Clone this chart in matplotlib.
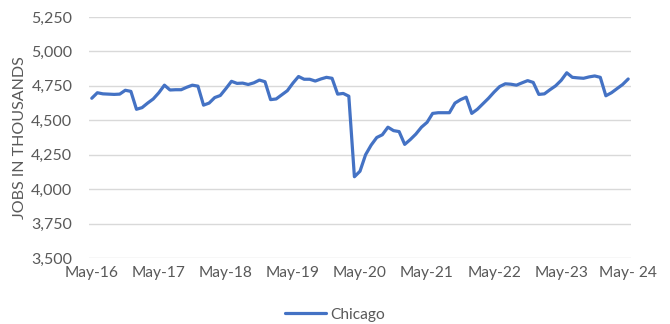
import matplotlib
matplotlib.use("Agg")
import matplotlib.pyplot as plt
from matplotlib.ticker import FuncFormatter, MultipleLocator

plt.rcParams['font.family'] = ['Lato', 'DejaVu Sans']

# Monthly Chicago employment, May 2016 - May 2024 (thousands of jobs)
months = [
    "May-16", "Jun-16", "Jul-16", "Aug-16", "Sep-16", "Oct-16", "Nov-16", "Dec-16",
    "Jan-17", "Feb-17", "Mar-17", "Apr-17", "May-17", "Jun-17", "Jul-17", "Aug-17",
    "Sep-17", "Oct-17", "Nov-17", "Dec-17", "Jan-18", "Feb-18", "Mar-18", "Apr-18",
    "May-18", "Jun-18", "Jul-18", "Aug-18", "Sep-18", "Oct-18", "Nov-18", "Dec-18",
    "Jan-19", "Feb-19", "Mar-19", "Apr-19", "May-19", "Jun-19", "Jul-19", "Aug-19",
    "Sep-19", "Oct-19", "Nov-19", "Dec-19", "Jan-20", "Feb-20", "Mar-20", "Apr-20",
    "May-20", "Jun-20", "Jul-20", "Aug-20", "Sep-20", "Oct-20", "Nov-20", "Dec-20",
    "Jan-21", "Feb-21", "Mar-21", "Apr-21", "May-21", "Jun-21", "Jul-21", "Aug-21",
    "Sep-21", "Oct-21", "Nov-21", "Dec-21", "Jan-22", "Feb-22", "Mar-22", "Apr-22",
    "May-22", "Jun-22", "Jul-22", "Aug-22", "Sep-22", "Oct-22", "Nov-22", "Dec-22",
    "Jan-23", "Feb-23", "Mar-23", "Apr-23", "May-23", "Jun-23", "Jul-23", "Aug-23",
    "Sep-23", "Oct-23", "Nov-23", "Dec-23", "Jan-24", "Feb-24", "Mar-24", "Apr-24",
    "May-24",
]
chicago = [
    4660, 4700, 4692, 4690, 4688, 4690, 4718, 4710,
    4580, 4592, 4625, 4655, 4700, 4755, 4720, 4722,
    4722, 4740, 4755, 4748, 4610, 4625, 4665, 4680,
    4730, 4783, 4768, 4770, 4760, 4772, 4792, 4780,
    4650, 4655, 4685, 4715, 4770, 4818, 4798, 4798,
    4785, 4800, 4812, 4805, 4690, 4695, 4675, 4090,
    4130, 4250, 4320, 4375, 4395, 4450, 4425, 4418,
    4325, 4360, 4400, 4450, 4485, 4550, 4555, 4555,
    4555, 4625, 4650, 4668, 4550, 4580, 4620, 4660,
    4705, 4745, 4765, 4762, 4755, 4772, 4788, 4775,
    4688, 4692, 4722, 4750, 4790, 4845, 4812, 4808,
    4805, 4815, 4822, 4812, 4678, 4700, 4730, 4760,
    4800,
]
tick_labels = ["May-16", "May-17", "May-18", "May-19", "May-20",
               "May-21", "May-22", "May-23", "May- 24"]

fig = plt.figure(figsize=(6.7, 3.24), dpi=100)
ax = fig.add_axes([0.1328, 0.2037, 0.8090, 0.7438])

x = list(range(len(chicago)))
ax.plot(x, chicago, color="#4472C4", linewidth=2.3, label="Chicago",
        solid_joinstyle="round", solid_capstyle="round")

ax.set_xlim(-0.5, len(chicago) - 0.5)
ax.set_ylim(3500, 5250)
ax.yaxis.set_major_locator(MultipleLocator(250))
ax.yaxis.set_major_formatter(FuncFormatter(lambda v, p: f"{int(v):,}"))
ax.set_xticks(x[::12])
ax.set_xticklabels(tick_labels)

ax.grid(axis="y", color="#d9d9d9", linewidth=1.0)
ax.set_axisbelow(True)
for s in ax.spines.values():
    s.set_visible(False)
ax.tick_params(axis="both", length=0, colors="#595959")
ax.tick_params(axis="y", pad=12, labelsize=11.5)
ax.tick_params(axis="x", pad=6, labelsize=11.2)

ax.set_ylabel("JOBS IN THOUSANDS", fontsize=11.5, color="#595959", labelpad=3)

leg = fig.legend(loc="center", bbox_to_anchor=(0.5, 0.028), ncol=1,
                 frameon=False, fontsize=11.2, handlelength=2.6,
                 handletextpad=0.3)
for t in leg.get_texts():
    t.set_color("#595959")

fig.savefig("out.png", dpi=100)
